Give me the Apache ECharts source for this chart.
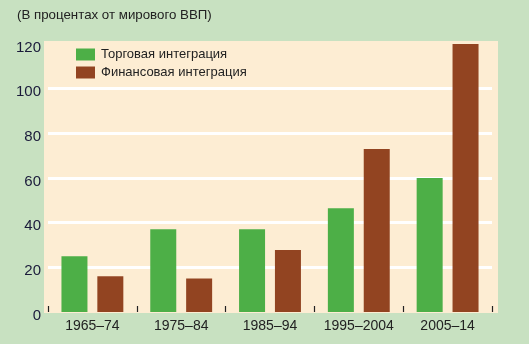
<!DOCTYPE html>
<html><head><meta charset="utf-8">
<script src="https://cdn.jsdelivr.net/npm/echarts@6/dist/echarts.min.js"></script>
<style>html,body{margin:0;padding:0;background:#C8E1C1;}#c{width:529px;height:344px;}</style>
</head><body><div id="c"></div>
<script>
const categories = ['1965–74','1975–84','1985–94','1995–2004','2005–14'];
const tradeValues = [25, 37, 37, 46.5, 60];
const financeValues = [16, 15, 27.8, 73, 120];
const seriesNames = ['Торговая интеграция','Финансовая интеграция'];
const yTicks = [0, 20, 40, 60, 80, 100, 120];
const titleText = '(В процентах от мирового ВВП)';

const chart = echarts.init(document.getElementById('c'), null, {renderer:'canvas'});
const font = '"Liberation Sans", Arial, sans-serif';
chart.setOption({
  backgroundColor: '#C8E1C1',
  animation: false,
  title: {text: titleText, left: 17, top: 9, padding: 0, textStyle:{fontFamily: font, fontSize: 13.3, fontWeight:'normal', color:'#222'}},
  graphic: [{type:'rect', shape:{x:44, y:41, width:454, height:272}, style:{fill:'#FDEDD3'}, z:-10, silent:true}],
  legend: {orient:'vertical', left: 76, top: 48, padding: 0, itemWidth: 19, itemHeight: 12, itemGap: 5,
    icon:'rect', data: seriesNames, textStyle:{fontFamily: font, fontSize: 13, color:'#222', padding:[0,0,0,1]}},
  grid: {left: 48, right: 37, top: 44, bottom: 32},
  xAxis: {type:'category', data: categories,
    axisLine:{show:false},
    axisTick:{show:true, inside:true, length:6, lineStyle:{color:'#222', width:1.2}},
    axisLabel:{interval: 0, fontFamily: font, fontSize: 14, color:'#222', margin: 7}},
  yAxis: {type:'value', min: yTicks[0], max: yTicks[yTicks.length-1], interval: 20,
    axisLine:{show:false}, axisTick:{show:false},
    axisLabel:{fontFamily: font, fontSize: 15, color:'#1a1a3a', margin: 7, verticalAlign:'top', lineHeight: 7},
    splitLine:{show:true, showMinLine:false, showMaxLine:false, lineStyle:{color:'#ffffff', width:3}}},
  series: [
    {name: seriesNames[0], type:'bar', data: tradeValues, barWidth: 26, barGap: '38%', itemStyle:{color:'#4DAF47'}},
    {name: seriesNames[1], type:'bar', data: financeValues, barWidth: 26, itemStyle:{color:'#924421'}}
  ]
});
</script></body></html>
